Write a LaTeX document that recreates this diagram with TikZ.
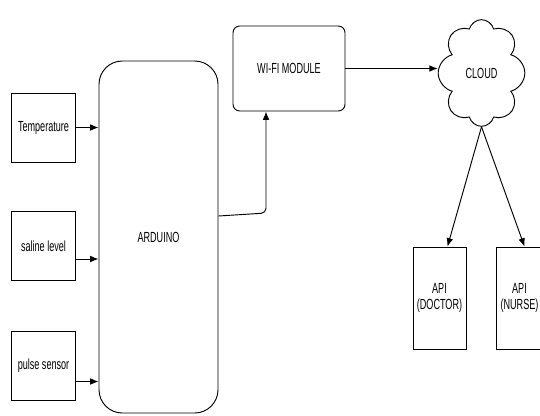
\documentclass[tikz,border=0pt]{standalone}
\usepackage{fontspec}
\setmainfont{Liberation Sans}[FakeStretch=0.62]
\usetikzlibrary{shapes.symbols, arrows.meta, positioning, calc}
\tikzset{
  sensor/.style={
    rectangle,
    minimum width=1.92cm, minimum height=2.07cm,
    draw, thick, align=center,
  },
  board/.style={
    rectangle, rounded corners=0.7cm,
    minimum width=3.57cm, minimum height=10.56cm,
    draw, thick, align=center,
  },
  module/.style={
    rectangle, rounded corners=0.2cm,
    minimum width=3.36cm, minimum height=2.55cm,
    draw, thick, align=center,
  },
  api/.style={
    rectangle,
    minimum width=1.41cm, minimum height=3.06cm,
    draw, thick, align=center,
  },
  arrow/.style={-{Latex[length=2.5mm, width=2mm]}, thick},
}

\begin{document}
\begin{tikzpicture}[x=0.03cm, y=-0.03cm, every node/.style={font=\fontsize{12.5}{14}\selectfont}]
  \useasboundingbox (0,0) rectangle (540,415);

  \node[sensor] (temp) at (43.5,127.5) {Temperature};
  \node[sensor] (saline) at (43.5,246) {saline level};
  \node[sensor] (pulse) at (43.5,365.5) {pulse sensor};
  \node[board] (ard) at (158.5,237) {ARDUINO};
  \node[module] (wifi) at (289,68.5) {WI-FI MODULE};
  \node[cloud, cloud puffs=8, aspect=0.8, draw, thick,
        minimum width=2.6cm, minimum height=3.2cm] (cloud) at (481.5,73) {CLOUD};
  \node[api] (doctor) at (439.5,298) {API\\(DOCTOR)};
  \node[api] (nurse) at (519.5,298) {API\\(NURSE)};

  \coordinate (bend) at (266,213);

  \draw[arrow] (temp.east) -- (temp.east -| ard.west);
  \draw[arrow] ([yshift=-13*0.03cm]saline.east) -- ([yshift=-13*0.03cm]saline.east -| ard.west);
  \draw[arrow] ([yshift=-16*0.03cm]pulse.east) -- ([yshift=-16*0.03cm]pulse.east -| ard.west);
  \draw[arrow, rounded corners=4pt] ([yshift=21*0.03cm]ard.east) -- (bend) -- (bend |- wifi.south);
  \draw[arrow] (wifi.east) -- (wifi.east -| cloud.west);
  \draw[arrow] (cloud.south) -- ([xshift=8*0.03cm]doctor.north);
  \draw[arrow] (cloud.south) -- ([xshift=5*0.03cm]nurse.north);
\end{tikzpicture}
\end{document}
